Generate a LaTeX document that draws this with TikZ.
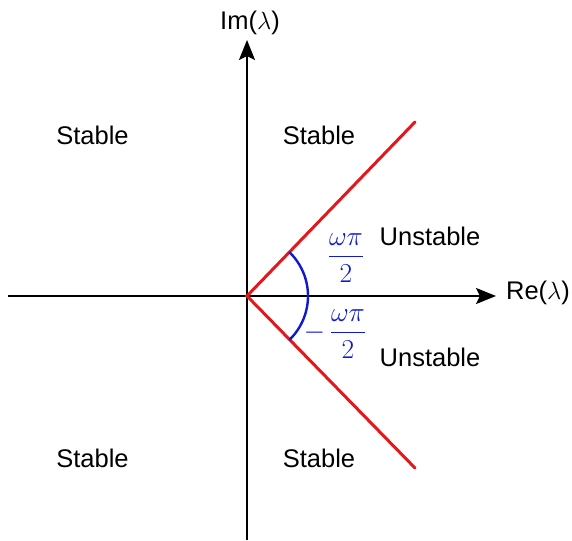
\documentclass[tikz,border=0pt]{standalone}
\usepackage{amsmath}
\usepackage{fontspec}
\setmainfont{Liberation Sans}
\usetikzlibrary{arrows.meta,calc}
\definecolor{redline}{RGB}{228,24,28}
\definecolor{bluearc}{RGB}{15,25,205}
\begin{document}
\begin{tikzpicture}[x=1pt,y=1pt,
  axis/.style={line width=2.2pt,black,-{Stealth[length=20pt,width=16pt,inset=4pt]}},
  ray/.style={line width=3pt,redline},
  arcl/.style={line width=2.4pt,bluearc},
  region/.style={font=\fontsize{25.5}{30}\selectfont,inner sep=0pt},
  mlab/.style={text=bluearc,font=\fontsize{24.88}{30}\selectfont,inner sep=0pt,scale=1.1}]
\useasboundingbox (0,0) rectangle (572,540);
\coordinate (O) at (247,244);
\coordinate (xl) at (8,244);
\coordinate (xr) at (496,244);
\coordinate (yb) at (247,0);
\coordinate (yt) at (247,500);
\coordinate (r1) at (415,418);
\coordinate (r2) at (415,72);
\draw[axis] (xl) -- (xr);
\draw[axis] (yb) -- (yt);
\draw[ray,line cap=round] (r1) -- (O) -- (r2);
\draw[arcl] ($(O)+(46:61)$) arc[start angle=46,end angle=-46,radius=61];
\node[region] (im) at (250,517) {Im($\lambda$)};
\node[region] (re) at (538,247) {Re($\lambda$)};
\node[region] (s1) at (92.5,405) {Stable};
\node[region] (s2) at (319,405) {Stable};
\node[region] (s3) at (92.5,82) {Stable};
\node[region] (s4) at (319,82) {Stable};
\node[region] (u1) at (430,304) {Unstable};
\node[region] (u2) at (430,183) {Unstable};
\node[mlab] (f1) at (346,282) {$\dfrac{\omega\pi}{2}$};
\node[mlab] (f2) at (335,206) {$-\,\dfrac{\omega\pi}{2}$};
\end{tikzpicture}
\end{document}
